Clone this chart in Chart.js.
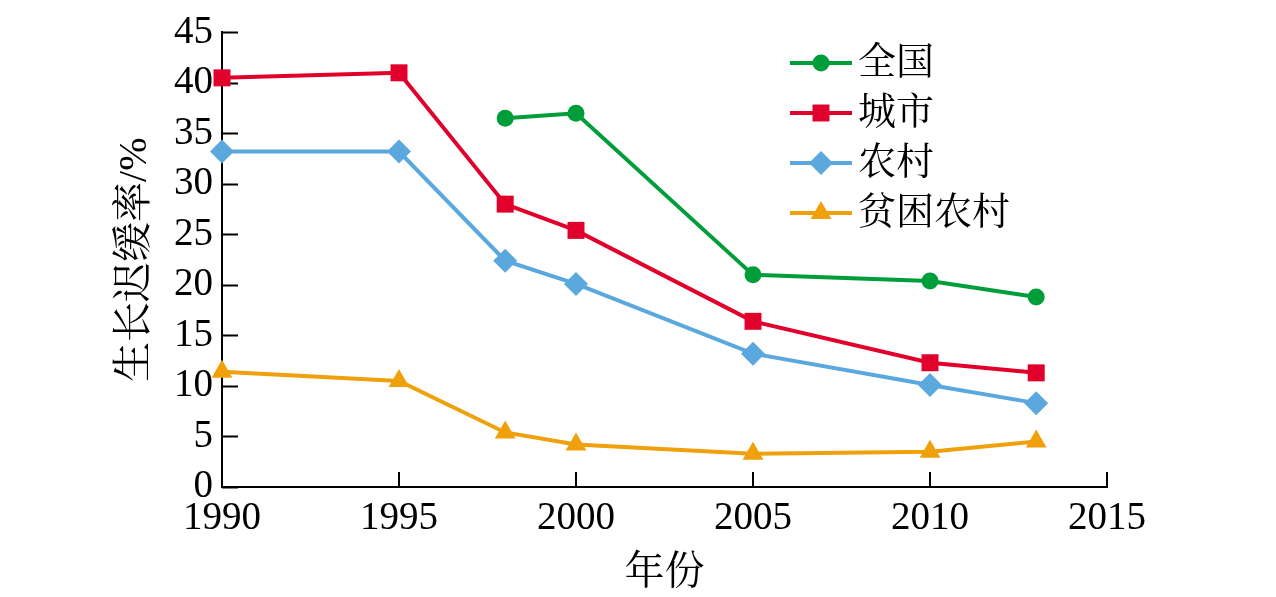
<!DOCTYPE html>
<html>
<head>
<meta charset="utf-8">
<script src="https://cdn.jsdelivr.net/npm/chart.js@4/dist/chart.umd.min.js"></script>
<style>
  html, body { margin: 0; padding: 0; background: #fff; }
  #wrap { width: 1276px; height: 597px; }
</style>
</head>
<body>
<div id="wrap"><canvas id="stuntChart" width="1276" height="597"></canvas></div>
<script>
// 生长迟缓率 (%)，按年份
const seriesNames = ['全国', '城市', '农村', '贫困农村'];
const yearsNational = [1998, 2000, 2005, 2010, 2013];
const national = [36.5, 37.0, 21.0, 20.4, 18.8];
const yearsOther = [1990, 1995, 1998, 2000, 2005, 2010, 2013];
const urban = [40.5, 41.0, 28.0, 25.4, 16.4, 12.3, 11.3];
const rural = [33.2, 33.2, 22.4, 20.1, 13.2, 10.1, 8.3];
const poorRural = [11.4, 10.5, 5.4, 4.2, 3.3, 3.5, 4.5];
const xTicks = [1990, 1995, 2000, 2005, 2010, 2015];
const yTicks = [0, 5, 10, 15, 20, 25, 30, 35, 40, 45];

const serif = '"Liberation Serif", "Noto Serif CJK SC", "Noto Sans CJK SC", serif';

function toPoints(xs, ys) {
    return xs.map((x, i) => ({ x: x, y: ys[i] }));
}

const styles = [
    { color: '#009E3B', point: 'circle', r: 8.5 },
    { color: '#E0002B', point: 'rect', r: 12 },
    { color: '#5AA8DE', point: 'rectRot', r: 12 },
    { color: '#EFA00A', point: 'triangle', r: 12 }
];
const values = [
    toPoints(yearsNational, national),
    toPoints(yearsOther, urban),
    toPoints(yearsOther, rural),
    toPoints(yearsOther, poorRural)
];

// 刻度线朝内
const innerTicks = {
    id: 'innerTicks',
    beforeDatasetsDraw(chart) {
        const { ctx, scales: { x, y }, chartArea } = chart;
        ctx.save();
        ctx.strokeStyle = '#000';
        ctx.lineWidth = 2;
        yTicks.forEach(v => {
            const py = Math.round(y.getPixelForValue(v)) + 0.5;
            ctx.beginPath();
            ctx.moveTo(chartArea.left, py);
            ctx.lineTo(chartArea.left + 16, py);
            ctx.stroke();
        });
        xTicks.forEach(v => {
            const px = Math.round(x.getPixelForValue(v));
            ctx.beginPath();
            ctx.moveTo(px, chartArea.bottom);
            ctx.lineTo(px, chartArea.bottom - 15);
            ctx.stroke();
        });
        ctx.restore();
    }
};

// 图例：线段 + 标记
const lineLegend = {
    id: 'lineLegend',
    afterDraw(chart) {
        const { ctx } = chart;
        ctx.save();
        chart.data.datasets.forEach((ds, i) => {
            const y = 63 + i * 50;
            ctx.strokeStyle = ds.borderColor;
            ctx.lineWidth = 4;
            ctx.beginPath();
            ctx.moveTo(790, y);
            ctx.lineTo(852, y);
            ctx.stroke();
            ctx.fillStyle = ds.pointBackgroundColor;
            ctx.strokeStyle = ds.pointBackgroundColor;
            Chart.helpers.drawPoint(ctx, {
                pointStyle: ds.pointStyle, radius: ds.pointRadius, rotation: 0, borderWidth: 0
            }, 821, y);
            ctx.fillStyle = '#000';
            ctx.font = '38px ' + serif;
            ctx.textBaseline = 'middle';
            ctx.textAlign = 'left';
            ctx.fillText(ds.label, 858, y + 1);
        });
        ctx.restore();
    }
};

const ctx1 = document.getElementById('stuntChart').getContext('2d');
const stuntChart = new Chart(ctx1, {
    type: 'line',
    data: {
        datasets: seriesNames.map((name, i) => ({
            label: name,
            data: values[i],
            borderColor: styles[i].color,
            backgroundColor: styles[i].color,
            pointBackgroundColor: styles[i].color,
            pointBorderColor: styles[i].color,
            pointBorderWidth: 0,
            pointStyle: styles[i].point,
            pointRadius: styles[i].r,
            pointHoverRadius: styles[i].r,
            borderWidth: 4,
            fill: false,
            clip: false,
            tension: 0
        }))
    },
    options: {
        responsive: false,
        animation: false,
        devicePixelRatio: 1,
        layout: { padding: { top: 30, right: 169, bottom: 0, left: 0 } },
        plugins: {
            legend: { display: false },
            tooltip: { enabled: false }
        },
        scales: {
            x: {
                type: 'linear',
                min: 1990,
                max: 2015,
                afterBuildTicks: axis => { axis.ticks = xTicks.map(v => ({ value: v })); },
                afterFit: axis => { axis.height = 110; },
                grid: { display: true, drawOnChartArea: false, drawTicks: false },
                border: { display: true, color: '#000', width: 2 },
                ticks: {
                    color: '#000', font: { family: serif, size: 39 }, padding: 8, maxRotation: 0,
                    callback: v => String(v)
                },
                title: {
                    display: true, text: '年份', color: '#000',
                    font: { family: serif, size: 40 }, padding: { top: 0, bottom: 0 }
                }
            },
            y: {
                min: 0,
                max: 45,
                afterBuildTicks: axis => { axis.ticks = yTicks.map(v => ({ value: v })); },
                afterFit: axis => { axis.width = 222; },
                grid: { display: true, drawOnChartArea: false, drawTicks: false },
                border: { display: true, color: '#000', width: 2 },
                ticks: { color: '#000', font: { family: serif, size: 39 }, padding: 9 },
                title: {
                    display: true, text: '生长迟缓率/%', color: '#000',
                    font: { family: serif, size: 40 }, padding: { top: 111, bottom: 0 }
                }
            }
        }
    },
    plugins: [innerTicks, lineLegend]
});
</script>
</body>
</html>
